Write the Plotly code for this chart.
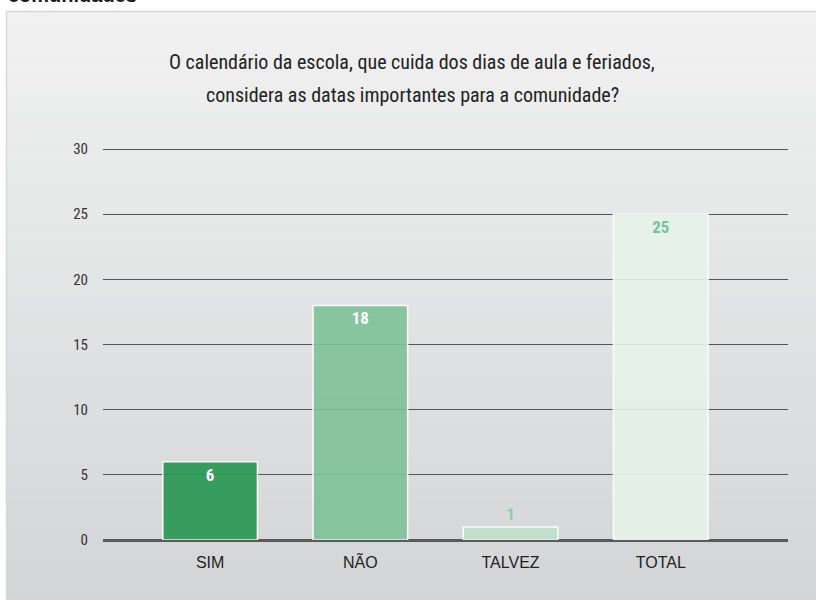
import plotly.graph_objects as go

categories = ["SIM", "NÃO", "TALVEZ", "TOTAL"]
values = [6, 18, 1, 25]
y_ticks = [0, 5, 10, 15, 20, 25, 30]
title_lines = ["O calendário da escola, que cuida dos dias de aula e feriados,",
               "considera as datas importantes para a comunidade?"]
header_text = "comunidades"

bar_colors = ["#269752", "#7ec298", "#bfe0ca", "#e6f3ea"]
text_colors = ["#ffffff", "#ffffff", "#8ccfa5", "#78c496"]
text_positions = ["inside", "inside", "outside", "inside"]

COND = "Roboto Condensed, DejaVu Sans Condensed, Roboto"

W, H = 816, 600
L, R, T, B = 103, 28, 147, 60
pw, ph = W - L - R, H - T - B
y_top_val = 30 * ph / 391.0

def px_x(x):
    return (x - L) / pw

def px_y(y):
    return (H - B - y) / ph

fig = go.Figure()
fig.add_trace(go.Bar(
    x=categories, y=values,
    marker=dict(color=bar_colors, opacity=0.9, line=dict(color="#ffffff", width=1.5)),
    text=[str(v) for v in values],
    textposition=text_positions,
    insidetextanchor="end",
    textangle=0,
    constraintext="none",
    textfont=dict(family=COND, size=17, color=text_colors, weight="bold"),
    cliponaxis=False,
    hoverinfo="skip",
))

shapes = []
top_c = (240, 241, 240)
bot_c = (212, 213, 215)
y_top, y_bot = 11, 600
n = 60
for i in range(n):
    f = i / (n - 1)
    c = tuple(round(top_c[k] + (bot_c[k] - top_c[k]) * f) for k in range(3))
    ya = y_top + (y_bot - y_top) * i / n
    yb = y_top + (y_bot - y_top) * (i + 1) / n + 0.6
    shapes.append(dict(type="rect", xref="paper", yref="paper", layer="below",
                       x0=px_x(6), x1=px_x(816), y0=px_y(yb), y1=px_y(ya),
                       fillcolor="rgb(%d,%d,%d)" % c, line=dict(width=0)))
shapes.append(dict(type="rect", xref="paper", yref="paper", layer="below",
                   x0=px_x(6.5), x1=px_x(817), y0=px_y(605), y1=px_y(11.5),
                   fillcolor="rgba(0,0,0,0)", line=dict(color="#d8d8d8", width=1.5)))

annotations = [
    dict(text=title_lines[0], xref="paper", yref="paper", x=px_x(412), y=px_y(62),
         xanchor="center", yanchor="middle", showarrow=False,
         font=dict(family=COND, size=20, color="#222222")),
    dict(text=title_lines[1], xref="paper", yref="paper", x=px_x(412), y=px_y(95),
         xanchor="center", yanchor="middle", showarrow=False,
         font=dict(family=COND, size=20, color="#222222")),
    dict(text="<b>" + header_text + "</b>", xref="paper", yref="paper", x=px_x(6), y=px_y(8),
         xanchor="left", yanchor="bottom", showarrow=False,
         font=dict(family="Liberation Sans", size=20, color="#1a1a1a")),
]

fig.update_layout(
    width=W, height=H,
    margin=dict(l=L, r=R, t=T, b=B, autoexpand=False),
    paper_bgcolor="#ffffff",
    plot_bgcolor="rgba(0,0,0,0)",
    showlegend=False,
    bargap=0.37,
    shapes=shapes,
    annotations=annotations,
    xaxis=dict(range=[-0.713, 3.847], showgrid=False, showline=False, zeroline=False,
               ticks="", ticklabelstandoff=11, fixedrange=True,
               tickfont=dict(family="Liberation Sans", size=16, color="#222222")),
    yaxis=dict(range=[0, y_top_val], tickvals=y_ticks, showgrid=True, gridcolor="#555555",
               gridwidth=1, zeroline=True, zerolinecolor="#5a5a5a", zerolinewidth=3,
               showline=False, ticks="", ticklabelstandoff=14, fixedrange=True,
               tickfont=dict(family=COND, size=15, color="#333333")),
)

fig.write_html("out.html", config={"displayModeBar": False},
               post_script="document.body.style.margin='0';")
